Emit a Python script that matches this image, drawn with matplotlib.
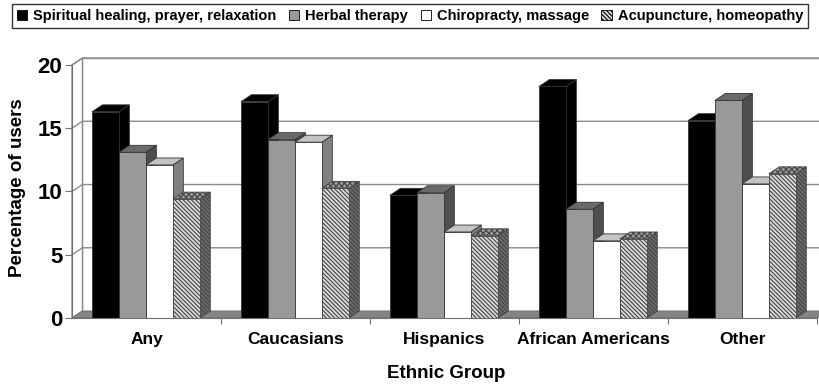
import matplotlib
matplotlib.use("Agg")
import matplotlib.pyplot as plt
from matplotlib.patches import Polygon, Patch

plt.rcParams["font.family"] = ["Liberation Sans", "DejaVu Sans"]
plt.rcParams["font.weight"] = "bold"
plt.rcParams["hatch.linewidth"] = 0.8

groups = ["Any", "Caucasians", "Hispanics", "African Americans", "Other"]
series = ["Spiritual healing, prayer, relaxation", "Herbal therapy",
          "Chiropracty, massage", "Acupuncture, homeopathy"]
spiritual = [16.3, 17.1, 9.7, 18.3, 15.6]
herbal = [13.1, 14.1, 9.9, 8.6, 17.2]
chiro = [12.1, 13.9, 6.8, 6.1, 10.6]
acupuncture = [9.4, 10.25, 6.5, 6.25, 11.4]
yticks = [0, 5, 10, 15, 20]

# (front, top, side, front hatch, top hatch, side hatch, edge)
HATCH = "\\" * 8
styles = [
    ("#000000", "#000000", "#000000", None, None, None, "#333333"),
    ("#999999", "#6a6a6a", "#4e4e4e", None, None, None, "#333333"),
    ("#ffffff", "#c4c4c4", "#808080", None, None, None, "#333333"),
    ("#dcdcdc", "#9a9a9a", "#6a6a6a", HATCH, "xxxxxx", HATCH, "#444444"),
]

W, H = 819, 387
DX, DY = 0.07, 0.55          # depth offset (categories, percent)
BAR_W, OFFSET = 0.181, 0.134  # bar width and first-bar offset in a category


def poly(ax, pts, fc, hatch=None, ec="#333333", lw=0.6, z=2):
    ax.add_patch(Polygon(pts, closed=True, facecolor=fc, edgecolor=ec,
                         hatch=hatch, linewidth=lw, zorder=z, clip_on=False))


def bar3d(ax, x0, h, style, z):
    front, top, side, fh, th, sh, ec = style
    x1 = x0 + BAR_W
    poly(ax, [(x1, 0), (x1 + DX, DY), (x1 + DX, h + DY), (x1, h)], side, sh, ec, z=z)
    poly(ax, [(x0, h), (x1, h), (x1 + DX, h + DY), (x0 + DX, h + DY)], top, th, ec, z=z)
    poly(ax, [(x0, 0), (x1, 0), (x1, h), (x0, h)], front, fh, ec, z=z)


fig = plt.figure(figsize=(W / 100, H / 100), dpi=100)
ax = fig.add_axes([72 / W, (H - 318) / H, (W - 72) / W, 260.6 / H])
ncat = len(groups)
ax.set_xlim(0, (W - 72) / 149)
ax.set_ylim(0, 20.6)

# walls and floor
grid_c = "#8a8a8a"
poly(ax, [(DX, DY), (ncat + DX, DY), (ncat + DX, 20 + DY), (DX, 20 + DY)],
     "white", ec=grid_c, lw=1.0, z=0)
poly(ax, [(0, 0), (DX, DY), (DX, 20 + DY), (0, 20)], "white", ec=grid_c, lw=1.0, z=0)
for y in yticks[1:]:
    ax.plot([0, DX, ncat + DX], [y, y + DY, y + DY], color=grid_c, lw=1.0,
            zorder=0.5, clip_on=False)
poly(ax, [(0, 0), (ncat, 0), (ncat + DX, DY), (DX, DY)], "#858585",
     ec="#6a6a6a", lw=0.6, z=1)

data = [spiritual, herbal, chiro, acupuncture]
z = 2
for g in range(ncat):
    for s, vals in enumerate(data):
        bar3d(ax, g + OFFSET + s * BAR_W, vals[g], styles[s], z)
        z += 0.01

for sp in ["top", "right"]:
    ax.spines[sp].set_visible(False)
ax.spines["left"].set_bounds(0, 20)
ax.spines["bottom"].set_bounds(0, ncat)
for sp in ["left", "bottom"]:
    ax.spines[sp].set_color("#707070")
    ax.spines[sp].set_zorder(5)

ax.set_yticks(yticks)
ax.set_yticklabels([str(v) for v in yticks], fontsize=16, fontweight="bold")
ax.tick_params(axis="y", direction="out", length=5, color="#707070", pad=2)
ax.set_xticks(range(1, ncat + 1))
ax.set_xticklabels([])
ax.tick_params(axis="x", which="major", direction="out", length=4, color="#707070")
ax.set_xticks([g + 0.5 for g in range(ncat)], minor=True)
ax.set_xticklabels(groups, minor=True, fontsize=12.5, fontweight="bold")
ax.tick_params(axis="x", which="minor", length=0, pad=10)

ax.set_ylabel("Percentage of users", fontsize=13.5, fontweight="bold", labelpad=8)
fig.text(446 / W, 1 - 374 / H, "Ethnic Group", ha="center", va="center",
         fontsize=13.5, fontweight="bold")

handles = [Patch(facecolor=st[0], edgecolor="black", hatch=st[3], linewidth=0.6)
           for st in styles]
leg = fig.legend(handles, series, loc="upper left", ncol=4, mode="expand",
                 bbox_to_anchor=(12 / W, 1 - 31 / H, 796 / W, 27 / H),
                 prop={"size": 10.5, "weight": "bold"}, handlelength=0.7,
                 handleheight=0.7, handletextpad=0.4, borderaxespad=0,
                 fancybox=False, borderpad=0.35)
leg.get_frame().set_edgecolor("black")
leg.get_frame().set_linewidth(1.0)

fig.savefig("out.png", dpi=100)
